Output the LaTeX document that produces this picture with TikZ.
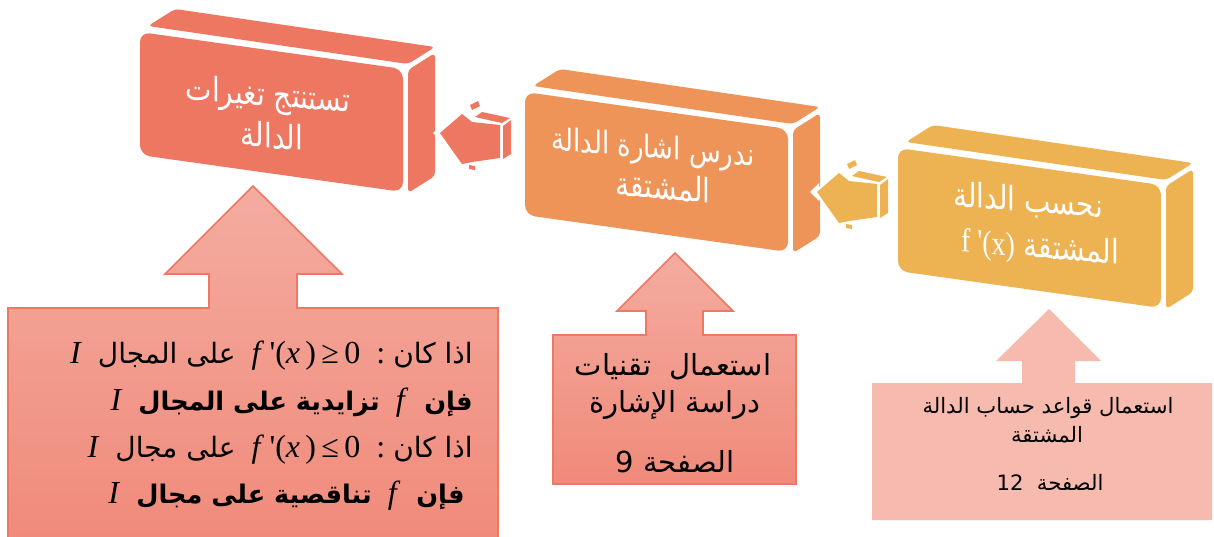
\documentclass[tikz,border=0pt]{standalone}
\usepackage{fontspec}
\setmainfont{Liberation Serif}
\newfontfamily\arabicfont[Script=Arabic]{DejaVu Sans}
\TeXXeTstate=1
\newcommand\artxt[1]{{\arabicfont\beginR #1\endR}}
\newcommand\arbig[1]{{\arabicfont\fontsize{14}{18}\selectfont\beginR #1\endR}}
\newcommand\arbold[1]{{\fontsize{12.8}{16}\selectfont\bfseries\artxt{#1}}}
\newcommand\tall[1]{\scalebox{1}[1.2]{#1}}
\definecolor{cred}{RGB}{238,119,98}
\definecolor{corange}{RGB}{239,148,89}
\definecolor{cyellow}{RGB}{237,178,82}
\definecolor{calltop}{RGB}{244,172,160}
\definecolor{callbot}{RGB}{240,138,122}
\definecolor{callborder}{RGB}{238,120,100}
\definecolor{callflat}{RGB}{247,186,175}
\newcommand\cubeshape[3]{%
  \begin{scope}[shift={(#1,#2)}]
    \fill[#3, rounded corners=5pt] (0,0) -- (263,37) -- (263,160) -- (0,123) -- cycle;
    \fill[#3, rounded corners=2pt] (8,-6) -- (268,32) -- (295,15) -- (35,-23) -- cycle;
    \fill[#3, rounded corners=2pt] (268,38) -- (295,21) -- (295,144) -- (268,161) -- cycle;
  \end{scope}}
\newcommand\smallarrow[3]{%
  \begin{scope}[shift={(#1,#2)}]
    \draw[white, line width=2.5pt, line join=miter] (0,0) -- (22,-19) -- (32,-11) -- (60,-8) -- (60,25) -- (32,29) -- (22,31) -- cycle;
    \fill[white] (-7,0) -- (2,-9) -- (2,9) -- cycle;
    \fill[#3] (0,0) -- (22,-19) -- (32,-11) -- (60,-8) -- (60,25) -- (32,29) -- (22,31) -- cycle;
    \fill[#3] (35,-16) -- (42,-21) -- (70,-15) -- (62,-10) -- cycle;
    \fill[#3] (63,-7) -- (71,-13) -- (71,21) -- (63,26) -- cycle;
    \fill[#3] (30,-28) -- (38,-32) -- (40,-27) -- (32,-23) -- cycle;
    \fill[#3] (29,32) -- (35,33) -- (35,37) -- (29,36) -- cycle;
  \end{scope}}
\tikzset{
  calloutshade/.style={top color=calltop, bottom color=callbot, draw=callborder, line width=0.8pt},
  boxtext/.style={text=white, font=\arabicfont\fontsize{14}{17}\selectfont, inner sep=0pt, anchor=base, yslant=-0.08},
  c1text/.style={font=\fontsize{16}{18}\selectfont, inner sep=0pt, anchor=base east},
  c2text/.style={font=\arabicfont\fontsize{14.5}{17}\selectfont, inner sep=0pt, anchor=base},
  c3text/.style={font=\arabicfont\fontsize{10.6}{12}\selectfont, inner sep=0pt, anchor=base}
}
\begin{document}
\begin{tikzpicture}[x=0.5pt,y=-0.5pt]
\clip (0,0) rectangle (1214,536);
\fill[white] (0,0) rectangle (1214,536);
% callouts
\path[calloutshade] (8,308) -- (209,308) -- (209,274) -- (165,274) -- (253,186) -- (342,274) -- (297,274) -- (297,308) -- (498,308) -- (498,545) -- (8,545) -- cycle;
\path[calloutshade] (553,335) -- (646,335) -- (646,311) -- (617,311) -- (675,253) -- (733,311) -- (703,311) -- (703,335) -- (796,335) -- (796,484) -- (553,484) -- cycle;
\fill[callflat] (872,383) -- (1022,383) -- (1022,361) -- (996,361) -- (1049,309) -- (1101,361) -- (1075,361) -- (1075,383) -- (1212,383) -- (1212,520) -- (872,520) -- cycle;
% boxes
\cubeshape{140}{32}{cred}
\cubeshape{525}{92}{corange}
\cubeshape{898}{148}{cyellow}
% small arrows
\smallarrow{440}{133}{cred}
\smallarrow{817}{192}{cyellow}
% box texts
\node[boxtext] (t1a) at (268,106) {\tall{\beginR تستنتج تغيرات\endR}};
\node[boxtext] (t1b) at (272,148) {\tall{\beginR الدالة\endR}};
\node[boxtext, font=\arabicfont\fontsize{13}{16}\selectfont] (t2a) at (653,158) {\tall{\beginR ندرس اشارة الدالة\endR}};
\node[boxtext] (t2b) at (663,199) {\tall{\beginR المشتقة\endR}};
\node[boxtext] (t3a) at (1028,212) {\tall{\beginR نحسب الدالة\endR}};
\node[boxtext] (t3b) at (1040,258) {\tall{{\rmfamily f \textquotesingle(x)} \beginR المشتقة\endR}};
% callout 1 text
\node[c1text] (l1) at (473,363) {\textit{I}\ \ \arbig{على المجال}\ \ \textit{f}\,\textquotesingle(\textit{x}\,)\,≥\,0\ \ :\ \arbig{اذا كان}};
\node[c1text] (l2) at (473,410) {\textit{I}\ \ \arbold{تزايدية على المجال}\ \ \textit{f}\ \ \arbold{فإن}};
\node[c1text] (l3) at (473,457) {\textit{I}\ \ \arbig{على مجال}\ \ \textit{f}\,\textquotesingle(\textit{x}\,)\,≤\,0\ \ :\ \arbig{اذا كان}};
\node[c1text] (l4) at (465,503) {\textit{I}\ \ \arbold{تناقصية على مجال}\ \ \textit{f}\ \ \arbold{فإن}};
% callout 2 text
\node[c2text] (m1) at (673,375) {\beginR استعمال\ \ تقنيات\endR};
\node[c2text] (m2) at (675,412) {\beginR دراسة الإشارة\endR};
\node[c2text] (m3) at (675,472) {\beginR الصفحة \beginL9\endL\endR};
% callout 3 text
\node[c3text] (r1) at (1048,413) {\beginR استعمال قواعد حساب الدالة\endR};
\node[c3text] (r2) at (1047,442) {\beginR المشتقة\endR};
\node[c3text] (r3) at (1050,490) {\beginR الصفحة\ \ \beginL12\endL\endR};
\end{tikzpicture}
\end{document}
